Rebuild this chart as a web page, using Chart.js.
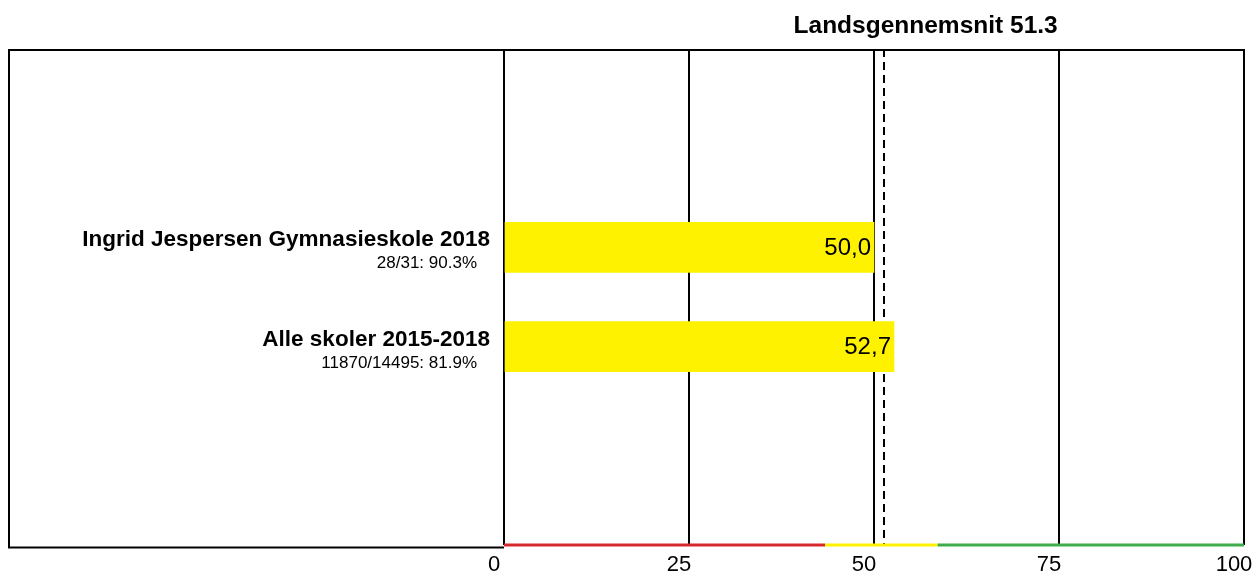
<!DOCTYPE html>
<html><head><meta charset="utf-8">
<script src="https://cdn.jsdelivr.net/npm/chart.js@4.4.1/dist/chart.umd.min.js"></script>
<style>html,body{margin:0;padding:0;background:#fff}#wrap{width:1256px;height:576px}</style>
</head><body><div id="wrap"><canvas id="c" width="1256" height="576"></canvas></div>
<script>
const categories = ['Ingrid Jespersen Gymnasieskole 2018', 'Alle skoler 2015-2018'];
const subLabels = ['28/31: 90.3%', '11870/14495: 81.9%'];
const values = [50.0, 52.7];
const nationalAverage = 51.3;
const xTickValues = [0, 25, 50, 75, 100];
const bandLimits = [0, 43.4, 58.6, 100];
const bandColors = ['#d7282f', '#fff200', '#3fab4a'];
const barColor = '#fff200';

const FONT = "'Liberation Sans', Arial, sans-serif";
const labels = ['', '', ...categories, '', ''];
const data = [null, null, ...values, null, null];
const OFFSET = 2;

const overlay = {
  id: 'overlay',
  beforeDatasetsDraw(chart) {
    const {ctx, chartArea, scales: {x}} = chart;
    const px = Math.round(x.getPixelForValue(nationalAverage));
    ctx.save();
    ctx.strokeStyle = '#000';
    ctx.lineWidth = 2;
    ctx.setLineDash([8, 5]);
    ctx.beginPath();
    ctx.moveTo(px, chartArea.top);
    ctx.lineTo(px, chartArea.bottom);
    ctx.stroke();
    ctx.restore();
  },
  afterDatasetsDraw(chart) {
    const {ctx, scales: {y}} = chart;
    const meta = chart.getDatasetMeta(0);
    ctx.save();
    ctx.fillStyle = '#000';
    ctx.font = '24px ' + FONT;
    ctx.textAlign = 'right';
    ctx.textBaseline = 'middle';
    values.forEach((v, i) => {
      const el = meta.data[i + OFFSET];
      ctx.fillText(v.toFixed(1).replace('.', ','), el.x - 3, el.y + 1);
    });
    categories.forEach((c, i) => {
      const cy = y.getPixelForValue(i + OFFSET);
      ctx.textBaseline = 'alphabetic';
      ctx.font = 'bold 22.5px ' + FONT;
      ctx.fillText(c, 490, cy - 1);
      ctx.font = '17px ' + FONT;
      ctx.fillText(subLabels[i], 477, cy + 21);
    });
    ctx.restore();
  },
  afterDraw(chart) {
    const {ctx, chartArea, scales: {x}} = chart;
    ctx.save();
    ctx.strokeStyle = '#000';
    ctx.lineWidth = 2;
    ctx.beginPath();
    ctx.moveTo(9, 547.5);
    ctx.lineTo(9, 50);
    ctx.lineTo(chartArea.right, 50);
    ctx.moveTo(8, 547.5);
    ctx.lineTo(chartArea.left, 547.5);
    ctx.stroke();
    ctx.lineWidth = 3;
    for (let i = 0; i < bandColors.length; i++) {
      ctx.strokeStyle = bandColors[i];
      ctx.beginPath();
      ctx.moveTo(x.getPixelForValue(bandLimits[i]), chartArea.bottom);
      ctx.lineTo(x.getPixelForValue(bandLimits[i + 1]), chartArea.bottom);
      ctx.stroke();
    }
    ctx.fillStyle = '#000';
    ctx.font = 'bold 24.5px ' + FONT;
    ctx.textAlign = 'center';
    ctx.textBaseline = 'alphabetic';
    ctx.fillText('Landsgennemsnit ' + nationalAverage, x.getPixelForValue(nationalAverage) + 42, 33);
    ctx.restore();
  }
};

new Chart(document.getElementById('c'), {
  type: 'bar',
  data: {
    labels: labels,
    datasets: [{
      data: data,
      backgroundColor: barColor,
      borderWidth: 0,
      barThickness: 50
    }]
  },
  options: {
    indexAxis: 'y',
    responsive: false,
    animation: false,
    devicePixelRatio: 1,
    layout: {padding: {left: 9, right: 12, top: 49, bottom: 0}},
    plugins: {legend: {display: false}, tooltip: {enabled: false}, title: {display: false}},
    scales: {
      x: {
        type: 'linear',
        min: 0, max: 100,
        afterBuildTicks(scale) { scale.ticks = xTickValues.map(v => ({value: v})); },
        afterFit(scale) { scale.height = 31; scale.paddingLeft = 0; scale.paddingRight = 0; },
        ticks: {
          color: '#000',
          font: {family: FONT, size: 22},
          padding: 7,
          labelOffset: -10,
          maxRotation: 0,
          autoSkip: false
        },
        grid: {color: '#000', lineWidth: 2, drawTicks: false},
        border: {display: false}
      },
      y: {
        type: 'category',
        offset: false,
        afterFit(scale) { scale.width = 495; },
        ticks: {display: false},
        grid: {display: false, drawTicks: false},
        border: {display: false}
      }
    }
  },
  plugins: [overlay]
});
</script>
</body></html>
